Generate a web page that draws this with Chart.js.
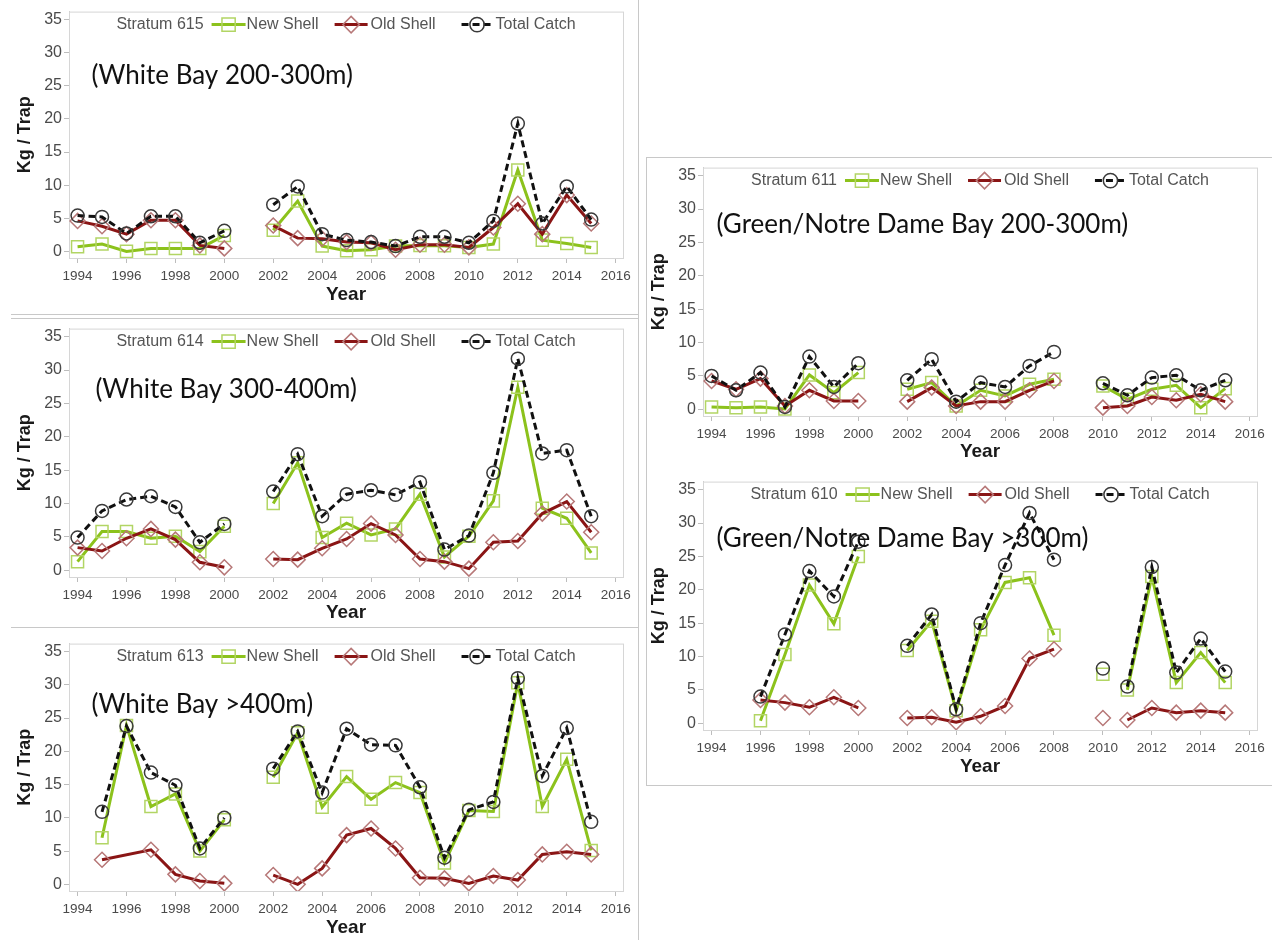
<!DOCTYPE html>
<html>
<head>
<meta charset="utf-8">
<script src="https://cdn.jsdelivr.net/npm/chart.js@4.4.1/dist/chart.umd.min.js"></script>
<style>
  body { margin: 0; background: #fff; width: 1272px; height: 940px; overflow: hidden; position: relative; }
  canvas { position: absolute; }
  .rule { position: absolute; background: #c8c8c8; }
  .box { position: absolute; border: 1px solid #c8c8c8; }
</style>
</head>
<body>
<div class="rule" style="left:11px;top:314px;width:627px;height:1px"></div>
<div class="rule" style="left:11px;top:318px;width:627px;height:1px"></div>
<div class="rule" style="left:11px;top:627px;width:627px;height:1px"></div>
<div class="rule" style="left:638px;top:0;width:1px;height:940px"></div>
<div class="box" style="left:646px;top:157px;width:640px;height:627px"></div>

<script>
// --- DATA (one value per year, null = no survey) ---
const years = [1994, 1995, 1996, 1997, 1998, 1999, 2000, 2001, 2002, 2003, 2004,
               2005, 2006, 2007, 2008, 2009, 2010, 2011, 2012, 2013, 2014, 2015];
const yearTicks = [1994, 1996, 1998, 2000, 2002, 2004, 2006, 2008, 2010, 2012, 2014, 2016];
const kgTicks = [0, 5, 10, 15, 20, 25, 30, 35];
const seriesNames = ['New Shell', 'Old Shell', 'Total Catch'];

// Stratum 615 - White Bay 200-300m
const new615 = [0.7, 1.1, 0, 0.45, 0.45, 0.45, 2.4, null, 3.2, 7.6, 0.8, 0.1, 0.25, 0.8, 0.9, 0.85, 0.6, 1.1, 12.3, 1.7, 1.2, 0.6];
const old615 = [4.6, 3.8, 2.6, 4.7, 4.7, 0.9, 0.45, null, 3.9, 2.0, 1.9, 1.4, 1.3, 0.25, 1.0, 1.0, 0.6, 3.6, 7.2, 2.6, 8.5, 4.2];
const total615 = [5.4, 5.2, 2.7, 5.3, 5.3, 1.3, 3.1, null, 7.05, 9.8, 2.6, 1.7, 1.4, 0.8, 2.2, 2.2, 1.3, 4.6, 19.3, 4.2, 9.8, 4.8];

// Stratum 614 - White Bay 300-400m
const new614 = [1.3, 5.8, 5.8, 4.8, 5.1, 2.8, 6.6, null, 10.0, 16.1, 4.9, 7.05, 5.3, 6.2, 11.4, 2.0, 5.1, 10.4, 27.4, 9.3, 7.8, 2.6];
const old614 = [3.4, 2.9, 4.8, 6.2, 4.6, 1.2, 0.45, null, 1.7, 1.6, 3.3, 4.7, 7.0, 5.3, 1.7, 1.3, 0.25, 4.2, 4.4, 8.5, 10.3, 5.7];
const total614 = [4.9, 8.9, 10.6, 11.1, 9.5, 4.2, 6.95, null, 11.8, 17.4, 8.1, 11.4, 12.0, 11.3, 13.2, 3.1, 5.2, 14.6, 31.7, 17.5, 18.0, 8.1];

// Stratum 613 - White Bay >400m
const new613 = [null, 7.0, 23.9, 11.7, 13.6, 5.0, 9.7, null, 16.1, 22.8, 11.6, 16.2, 12.8, 15.3, 13.8, 3.2, 11.1, 10.95, 30.3, 11.7, 18.8, 5.1];
const old613 = [null, 3.7, null, 5.2, 1.5, 0.5, 0.15, null, 1.4, 0, 2.4, 7.4, 8.4, 5.4, 1.0, 0.9, 0.15, 1.25, 0.65, 4.5, 4.9, 4.5];
const total613 = [null, 10.9, 23.8, 16.8, 14.9, 5.4, 10.0, null, 17.4, 23.0, 13.8, 23.4, 21.0, 20.9, 14.6, 4.0, 11.2, 12.4, 31.0, 16.3, 23.5, 9.4];

// Stratum 611 - Green/Notre Dame Bay 200-300m
const new611 = [0.35, 0.25, 0.35, 0.05, 5.15, 2.5, 5.5, null, 3.0, 4.0, 0.5, 2.85, 2.0, 3.75, 4.5, null, 3.5, 1.5, 3.0, 3.6, 0.25, 3.1];
const old611 = [4.25, 3.0, 4.6, 0.5, 2.85, 1.25, 1.25, null, 1.15, 3.25, 0.5, 1.15, 1.15, 2.85, 4.25, null, 0.25, 0.5, 1.85, 1.35, 2.25, 1.15];
const total611 = [5.0, 2.85, 5.5, 0.35, 7.9, 3.35, 6.9, null, 4.35, 7.5, 1.15, 4.0, 3.35, 6.5, 8.6, null, 3.9, 2.1, 4.75, 5.1, 2.85, 4.35];

// Stratum 610 - Green/Notre Dame Bay >300m
const new610 = [null, null, 0.4, 10.3, 20.7, 14.9, 25.0, null, 10.9, 15.3, 1.9, 14.0, 21.1, 21.8, 13.2, null, 7.35, 5.0, 22.0, 6.1, 10.6, 6.1];
const old610 = [null, null, 3.5, 3.1, 2.4, 3.9, 2.3, null, 0.8, 0.9, 0.15, 1.05, 2.6, 9.7, 11.1, null, 0.8, 0.5, 2.3, 1.6, 1.9, 1.6];
const total610 = [null, null, 4.0, 13.3, 22.8, 19.0, 27.2, null, 11.6, 16.3, 2.1, 15.0, 23.7, 31.5, 24.5, null, 8.2, 5.5, 23.4, 7.6, 12.7, 7.75];

// where the lines are broken (missing survey years); 610 has no link 2010-2011
const breaks615 = [2001];
const breaks614 = [2001];
const breaks613 = [2001];
const breaks611 = [2001, 2009];
const breaks610 = [2001, 2009, 2010.5];

// --- PANEL LAYOUT (page pixels of each plot frame) ---
const panels = [
  { id: '615', label: '(White Bay 200-300m)', series: [new615, old615, total615], breaks: breaks615,
    L: 69, T: 10, R: 623, B: 258, yearY: 295, noteX: 1994.57, noteY: 26.5 },
  { id: '614', label: '(White Bay 300-400m)', series: [new614, old614, total614], breaks: breaks614,
    L: 69, T: 327, R: 623, B: 577, yearY: 613, noteX: 1994.73, noteY: 27.1 },
  { id: '613', label: '(White Bay >400m)', series: [new613, old613, total613], breaks: breaks613,
    L: 69, T: 642, R: 623, B: 891, yearY: 928, noteX: 1994.57, noteY: 27.0 },
  { id: '611', label: '(Green/Notre Dame Bay 200-300m)', series: [new611, old611, total611], breaks: breaks611,
    L: 703, T: 166, R: 1257, B: 416, yearY: 452, noteX: 1994.2, noteY: 27.6 },
  { id: '610', label: '(Green/Notre Dame Bay >300m)', series: [new610, old610, total610], breaks: breaks610,
    L: 703, T: 480, R: 1257, B: 730, yearY: 767, noteX: 1994.2, noteY: 27.7 }
];

const styles = [
  { borderColor: '#8cc21c', borderWidth: 3, pointStyle: 'rect', pointRadius: 8.5, pointBorderColor: '#b2d564', order: 2 },
  { borderColor: '#8a1515', borderWidth: 3, pointStyle: 'rectRot', pointRadius: 7.5, pointBorderColor: '#b77878', order: 1 },
  { borderColor: '#111111', borderWidth: 3, borderDash: [7, 4], pointStyle: 'circle', pointRadius: 6.5, pointBorderColor: '#3a3a3a', order: 0 }
];

const TICK_FONT_Y = { family: '"Liberation Sans", Arial, sans-serif', size: 16 };
const TICK_FONT_X = { family: '"Liberation Sans", Arial, sans-serif', size: 13.5 };
const TITLE_FONT = { family: '"Liberation Sans", Arial, sans-serif', size: 18, weight: 'bold' };

function toPoints(values, breaks) {
  const pts = [];
  years.forEach((yr, i) => { if (values[i] !== null) pts.push({ x: yr, y: values[i] }); });
  breaks.forEach(b => pts.push({ x: b, y: null }));
  pts.sort((a, b) => a.x - b.x);
  return pts;
}

// plot frame (light box round the chart area)
const framePlugin = {
  id: 'frame',
  beforeDatasetsDraw(chart) {
    const a = chart.chartArea, ctx = chart.ctx;
    ctx.save();
    ctx.strokeStyle = '#d6d6d6';
    ctx.lineWidth = 1;
    ctx.strokeRect(a.left + 0.5, a.top + 0.5, a.right - a.left, a.bottom - a.top);
    ctx.restore();
  }
};

// legend inside the plot + region label
const insidePlugin = {
  id: 'inside',
  afterDraw(chart, args, opts) {
    const ctx = chart.ctx, a = chart.chartArea;
    const y = a.top + 13;
    ctx.save();
    ctx.font = '16px "Liberation Sans", Arial, sans-serif';
    ctx.textBaseline = 'middle';
    const head = 'Stratum ' + opts.id;
    const sample = [34, 33, 31], before = [8, 16, 26], after = [1, 3, 3];
    let total = ctx.measureText(head).width;
    seriesNames.forEach((n, i) => { total += before[i] + sample[i] + after[i] + ctx.measureText(n).width; });
    let x = (a.left + a.right) / 2 - total / 2;
    ctx.fillStyle = '#555';
    ctx.fillText(head, x, y);
    x += ctx.measureText(head).width;
    chart.data.datasets.forEach((ds, i) => {
      x += before[i];
      ctx.save();
      ctx.strokeStyle = ds.borderColor;
      ctx.lineWidth = ds.borderWidth;
      ctx.setLineDash(ds.borderDash || []);
      ctx.beginPath();
      ctx.moveTo(x, y);
      ctx.lineTo(x + sample[i], y);
      ctx.stroke();
      ctx.setLineDash([]);
      ctx.strokeStyle = ds.pointBorderColor;
      ctx.fillStyle = 'rgba(255,255,255,0)';
      ctx.lineWidth = 1.5;
      Chart.helpers.drawPoint(ctx, { pointStyle: ds.pointStyle, radius: ds.pointRadius * 1.1, rotation: 0, borderWidth: 1.5 }, x + sample[i] / 2, y);
      ctx.restore();
      x += sample[i] + after[i];
      ctx.fillStyle = '#555';
      ctx.fillText(ds.label, x, y);
      x += ctx.measureText(ds.label).width;
    });
    // region label
    const xs = chart.scales.x, ys = chart.scales.y;
    ctx.fillStyle = '#111';
    ctx.font = '26px Lato, "Open Sans", sans-serif';
    ctx.fillText(opts.label, xs.getPixelForValue(opts.noteX), ys.getPixelForValue(opts.noteY));
    ctx.restore();
  }
};

panels.forEach(p => {
  const canvas = document.createElement('canvas');
  const left = p.L - 69, top = p.T - 10;
  const width = p.R + 14 - left, height = p.yearY + 14 - top;
  canvas.width = width;
  canvas.height = height;
  canvas.style.left = left + 'px';
  canvas.style.top = top + 'px';
  canvas.style.width = width + 'px';
  canvas.style.height = height + 'px';
  document.body.appendChild(canvas);

  const datasets = p.series.map((vals, i) => Object.assign({
    label: seriesNames[i],
    data: toPoints(vals, p.breaks),
    pointBackgroundColor: 'rgba(255,255,255,0)',
    pointBorderWidth: 1.5,
    tension: 0,
    spanGaps: false
  }, styles[i]));

  new Chart(canvas, {
    type: 'line',
    data: { datasets: datasets },
    options: {
      responsive: false,
      animation: false,
      layout: { padding: { left: 0, top: 10, right: 14, bottom: 0 } },
      scales: {
        x: {
          type: 'linear', min: 1993.65, max: 2016.3,
          afterBuildTicks: s => { s.ticks = yearTicks.map(v => ({ value: v })); },
          afterFit: s => { s.height = height - 10 - (p.B - p.T); },
          ticks: { font: TICK_FONT_X, color: '#4a4a4a', padding: 5, maxRotation: 0, autoSkip: false, callback: v => String(v) },
          grid: { drawOnChartArea: false, tickLength: 5, color: '#bdbdbd' },
          border: { color: '#cfcfcf' },
          title: { display: true, text: 'Year', font: { family: TITLE_FONT.family, size: 19, weight: 'bold' }, color: '#1a1a1a', padding: { top: 0, bottom: 2.6 } }
        },
        y: {
          min: -1, max: 36.2,
          afterBuildTicks: s => { s.ticks = kgTicks.map(v => ({ value: v })); },
          afterFit: s => { s.width = 69; },
          ticks: { font: TICK_FONT_Y, color: '#4a4a4a', padding: 2, callback: v => String(v) },
          grid: { drawOnChartArea: false, tickLength: 5, color: '#bdbdbd' },
          border: { color: '#cfcfcf' },
          title: { display: true, text: 'Kg / Trap', font: TITLE_FONT, color: '#1a1a1a', padding: { top: 14, bottom: 0 } }
        }
      },
      plugins: {
        legend: { display: false },
        tooltip: { enabled: false },
        inside: { id: p.id, label: p.label, noteX: p.noteX, noteY: p.noteY }
      }
    },
    plugins: [framePlugin, insidePlugin]
  });
});
</script>
</body>
</html>
